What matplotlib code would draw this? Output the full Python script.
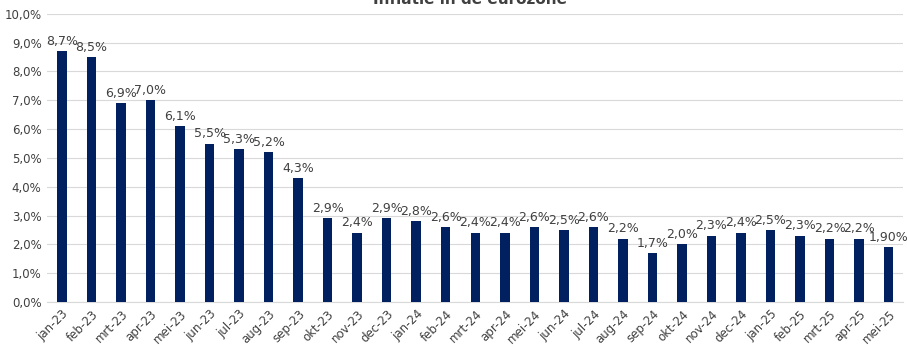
import matplotlib
matplotlib.use("Agg")
import matplotlib.pyplot as plt
import numpy as np

months = ["jan-23", "feb-23", "mrt-23", "apr-23", "mei-23", "jun-23", "jul-23",
          "aug-23", "sep-23", "okt-23", "nov-23", "dec-23", "jan-24", "feb-24",
          "mrt-24", "apr-24", "mei-24", "jun-24", "jul-24", "aug-24", "sep-24",
          "okt-24", "nov-24", "dec-24", "jan-25", "feb-25", "mrt-25", "apr-25",
          "mei-25"]
inflation = [8.7, 8.5, 6.9, 7.0, 6.1, 5.5, 5.3, 5.2, 4.3, 2.9, 2.4, 2.9, 2.8, 2.6,
             2.4, 2.4, 2.6, 2.5, 2.6, 2.2, 1.7, 2.0, 2.3, 2.4, 2.5, 2.3, 2.2, 2.2,
             1.9]
labels = [f"{v:.1f}%".replace(".", ",") for v in inflation[:-1]] + ["1,90%"]

text_col = "#404040"
bar_col = "#002060"

fig = plt.figure(figsize=(9.07, 3.46), dpi=100)
ax = fig.add_axes([0.052, 0.127, 0.944, 0.833])

x = np.arange(len(months))
ax.bar(x, inflation, width=0.32, color=bar_col, zorder=3)

for xi, v, lab in zip(x, inflation, labels):
    ax.text(xi, v + 0.12, lab, ha="center", va="bottom", fontsize=9, color=text_col)

ax.set_ylim(0, 10)
ax.set_xlim(-0.5, len(months) - 0.5)
ax.set_yticks(np.arange(0, 11, 1))
ax.set_yticklabels([f"{t:.1f}%".replace(".", ",") for t in range(11)],
                   fontsize=8.5, color=text_col)
ax.set_xticks(x)
ax.set_xticklabels(months, rotation=45, ha="right", rotation_mode="anchor",
                   fontsize=8.5, color=text_col)
ax.tick_params(axis="both", length=0, pad=4)

ax.grid(axis="y", color="#d9d9d9", linewidth=0.8, zorder=0)
for s in ["top", "right", "left"]:
    ax.spines[s].set_visible(False)
ax.spines["bottom"].set_color("#d9d9d9")

fig.text(0.518, 1.0, "Inflatie in de eurozone", ha="center", va="center",
         fontsize=11, fontweight="bold", color=text_col)

fig.savefig("out.png", dpi=100)
